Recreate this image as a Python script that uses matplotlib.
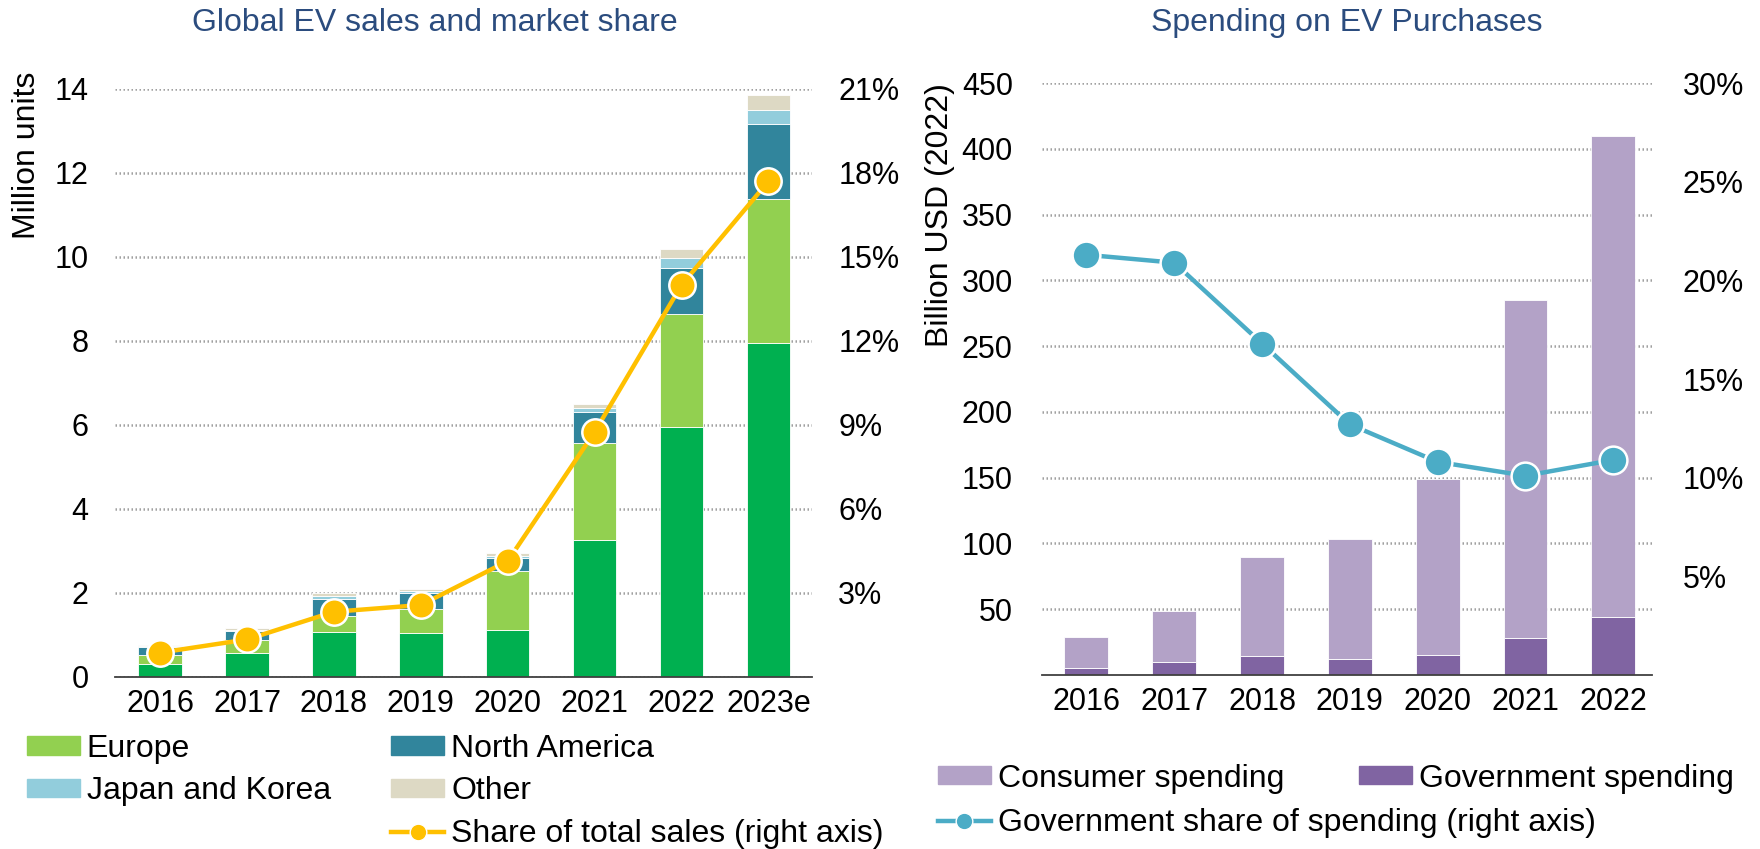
import matplotlib
matplotlib.use("Agg")
import matplotlib.pyplot as plt
from matplotlib.patches import Patch
from matplotlib.lines import Line2D
from matplotlib.ticker import FuncFormatter

plt.rcParams['font.family'] = ['Liberation Sans', 'DejaVu Sans']

# EV sales by region, million units (stacked)
years_sales = ['2016', '2017', '2018', '2019', '2020', '2021', '2022', '2023e']
china = [0.31, 0.56, 1.07, 1.04, 1.13, 3.27, 5.95, 7.95]
europe = [0.22, 0.31, 0.38, 0.58, 1.39, 2.30, 2.69, 3.43]
north_america = [0.18, 0.22, 0.41, 0.37, 0.31, 0.73, 1.10, 1.78]
japan_korea = [0.03, 0.04, 0.08, 0.06, 0.06, 0.11, 0.24, 0.33]
other = [0.02, 0.04, 0.06, 0.04, 0.06, 0.10, 0.21, 0.37]
share_sales = [0.87, 1.34, 2.33, 2.57, 4.14, 8.75, 14.0, 17.7]

# Spending on EV purchases, billion USD (2022)
years_spend = ['2016', '2017', '2018', '2019', '2020', '2021', '2022']
government = [5.3, 9.6, 14.6, 12.4, 15.5, 28.3, 44.4]
consumer = [23.3, 39.2, 75.4, 91.3, 133.5, 257.1, 365.2]
gov_share = [21.3, 20.9, 16.8, 12.7, 10.8, 10.1, 10.9]

C_CHINA = '#00B050'
C_EUROPE = '#92D050'
C_NA = '#31859C'
C_JK = '#92CDDC'
C_OTHER = '#DDD9C4'
C_SHARE = '#FFC000'
C_CONS = '#B3A2C7'
C_GOV = '#8064A2'
C_GSHARE = '#4BACC6'
TITLE_C = '#2B4C7E'
GRID_C = '#A0A0A0'
FS_TICK = 22
FS_LEG = 23

LEG_KW = dict(frameon=False, fontsize=FS_LEG, handlelength=1.65, handleheight=0.5,
              handletextpad=0.22, borderpad=0, borderaxespad=0, loc='upper left')

fig = plt.figure(figsize=(17.6, 8.49), dpi=100)


def style_axis(ax, ticks):
    ax.set_yticks(ticks)
    ax.yaxis.grid(True, color=GRID_C, linestyle=(0, (0.6, 1.0)), linewidth=1.8)
    ax.set_axisbelow(True)
    for s in ['top', 'right', 'left']:
        ax.spines[s].set_visible(False)
    ax.spines['bottom'].set_color('#404040')
    ax.spines['bottom'].set_linewidth(1.3)
    ax.tick_params(axis='both', length=0, labelsize=FS_TICK)
    ax.tick_params(axis='y', pad=19)
    ax.tick_params(axis='x', pad=9)


def pct_axis(ax, lim, ticks, pad):
    ax.set_ylim(0, lim)
    ax.set_yticks(ticks)
    ax.yaxis.set_major_formatter(FuncFormatter(lambda v, p: f'{v:.0f}%'))
    ax.tick_params(axis='y', length=0, labelsize=FS_TICK, pad=pad)
    for s in ax.spines.values():
        s.set_visible(False)


# ---- left: global EV sales ----
ax1 = fig.add_axes([0.0653, 0.2026, 0.396, 0.6926])
x1 = range(len(years_sales))
bottom = [0.0] * len(years_sales)
for vals, col in [(china, C_CHINA), (europe, C_EUROPE), (north_america, C_NA),
                  (japan_korea, C_JK), (other, C_OTHER)]:
    ax1.bar(x1, vals, 0.5, bottom=bottom, color=col, edgecolor='white', linewidth=0.6)
    bottom = [b + v for b, v in zip(bottom, vals)]
ax1.set_xlim(-0.52, len(years_sales) - 0.5)
ax1.set_ylim(0, 14)
style_axis(ax1, range(0, 15, 2))
ax1.set_xticks(list(x1))
ax1.set_xticklabels(years_sales)
ax1.set_ylabel('Million units', fontsize=FS_LEG)
ax1.yaxis.set_label_coords(-0.105, 0.888)

ax1r = ax1.twinx()
ax1r.plot(x1, share_sales, color=C_SHARE, linewidth=3.2, marker='o', markersize=19,
          markerfacecolor=C_SHARE, markeredgecolor='white', markeredgewidth=1.8)
pct_axis(ax1r, 21, range(3, 22, 3), 19)

fig.text(0.247, 0.973, 'Global EV sales and market share', ha='center', va='center',
         fontsize=23, color=TITLE_C)

blank = Patch(facecolor='none', edgecolor='none')
h_share = Line2D([], [], color=C_SHARE, linewidth=3.2, marker='o', markersize=12,
                 markerfacecolor=C_SHARE, markeredgecolor='white')
fig.legend([Patch(color=C_EUROPE), Patch(color=C_JK), blank,
            Patch(color=C_NA), Patch(color=C_OTHER), h_share],
           ['Europe', 'Japan and Korea', '', 'North America', 'Other',
            'Share of total sales (right axis)'],
           bbox_to_anchor=(0.0153, 0.1356), ncol=2, labelspacing=0.39,
           columnspacing=1.9, **LEG_KW)

# ---- right: spending on EV purchases ----
ax2 = fig.add_axes([0.592, 0.205, 0.3466, 0.697])
x2 = range(len(years_spend))
ax2.bar(x2, government, 0.5, color=C_GOV, edgecolor='white', linewidth=0.6)
ax2.bar(x2, consumer, 0.5, bottom=government, color=C_CONS, edgecolor='white', linewidth=0.6)
ax2.set_xlim(-0.507, len(years_spend) - 0.56)
ax2.set_ylim(0, 450)
style_axis(ax2, range(50, 451, 50))
ax2.tick_params(axis='y', pad=21)
ax2.set_xticks(list(x2))
ax2.set_xticklabels(years_spend)
ax2.set_ylabel('Billion USD (2022)', fontsize=FS_LEG)
ax2.yaxis.set_label_coords(-0.1426, 0.777)

ax2r = ax2.twinx()
ax2r.plot(x2, gov_share, color=C_GSHARE, linewidth=3.2, marker='o', markersize=20,
          markerfacecolor=C_GSHARE, markeredgecolor='white', markeredgewidth=1.8)
pct_axis(ax2r, 30, range(5, 31, 5), 22)

fig.text(0.765, 0.973, 'Spending on EV Purchases', ha='center', va='center',
         fontsize=23, color=TITLE_C)

fig.legend([Patch(color=C_CONS), Patch(color=C_GOV)],
           ['Consumer spending', 'Government spending'],
           bbox_to_anchor=(0.533, 0.1006), ncol=2, columnspacing=2.35, **LEG_KW)
h_gshare = Line2D([], [], color=C_GSHARE, linewidth=3.2, marker='o', markersize=12,
                  markerfacecolor=C_GSHARE, markeredgecolor='white')
fig.legend([h_gshare], ['Government share of spending (right axis)'],
           bbox_to_anchor=(0.533, 0.048), **LEG_KW)

fig.savefig('out.png', dpi=100)
